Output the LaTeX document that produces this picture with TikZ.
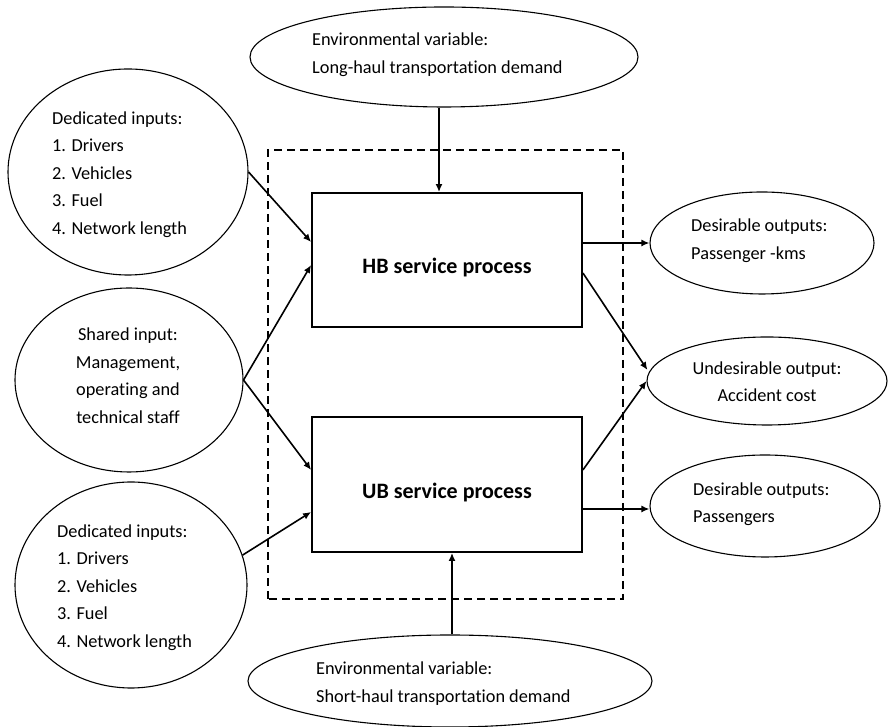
\documentclass[tikz,border=0pt]{standalone}
\usepackage{fontspec}
\setmainfont{Carlito}[Ligatures=NoCommon]
\usetikzlibrary{shapes.geometric,arrows.meta,calc}

\begin{document}
\begin{tikzpicture}[x=1pt,y=1pt,
  txt/.style={inner sep=0pt, font=\fontsize{18.3}{27.5}\selectfont},
  boldtxt/.style={inner sep=0pt, font=\fontsize{22}{26}\selectfont\bfseries},
  oval/.style={draw, ellipse, line width=1.1pt, inner sep=0pt},
  procbox/.style={draw, rectangle, line width=1.8pt, inner sep=0pt,
                  minimum width=270pt},
  conn/.style={line width=1.6pt, -{Latex[length=8pt,width=7pt]}},
  frame/.style={draw, line width=1.3pt, dash pattern=on 8pt off 5pt}
]
\useasboundingbox (0,0) rectangle (889,727);

% system boundary
\draw[frame] (268,128) rectangle (623,577);

% the two service processes
\node[procbox, minimum height=134pt] (hb) at (447,467) {};
\node[procbox, minimum height=135pt] (ub) at (447,242.5) {};
\node[boldtxt] (hbl) at (447,459) {HB service process};
\node[boldtxt] (ubl) at (447,234) {UB service process};

% environmental variables
\node[oval, minimum width=388pt, minimum height=100pt] (envT) at (444,670) {};
\node[txt, align=left, anchor=west] (envTl) at (312,672.5)
  {Environmental variable:\\Long-haul transportation demand};
\node[oval, minimum width=404pt, minimum height=92pt] (envB) at (450,46) {};
\node[txt, align=left, anchor=west] (envBl) at (316,43.5)
  {Environmental variable:\\Short-haul transportation demand};

% inputs
\node[oval, minimum width=240pt, minimum height=206pt] (dl1) at (128,555) {};
\node[txt, align=left, anchor=west] (dl1l) at (52,552.5)
  {Dedicated inputs:\\1. Drivers\\2. Vehicles\\3. Fuel\\4. Network length};
\node[oval, minimum width=228pt, minimum height=184pt] (sh) at (129,347) {};
\node[txt, align=center] (shl) at (128,351.5)
  {Shared input:\\Management,\\operating and\\technical staff};
\node[oval, minimum width=232pt, minimum height=206pt] (dl2) at (131,142) {};
\node[txt, align=left, anchor=west] (dl2l) at (57,139.5)
  {Dedicated inputs:\\1. Drivers\\2. Vehicles\\3. Fuel\\4. Network length};

% outputs
\node[oval, minimum width=224pt, minimum height=102pt] (pk) at (762,484) {};
\node[txt, align=left, anchor=west] (pkl) at (691,486.5)
  {Desirable outputs:\\Passenger -kms};
\node[oval, minimum width=240pt, minimum height=88pt] (ac) at (767,346) {};
\node[txt, align=center] (acl) at (767,345.5)
  {Undesirable output:\\Accident cost};
\node[oval, minimum width=230pt, minimum height=102pt] (pa) at (765,221) {};
\node[txt, align=left, anchor=west] (pal) at (693,223)
  {Desirable outputs:\\Passengers};

% connection points on the process boxes
\coordinate (hbtop) at ($(hb.north)+(-8,0)$);
\coordinate (ubbot) at ($(ub.south)+(5,0)$);
\coordinate (hbin1) at ($(hb.west)+(0,18)$);
\coordinate (hbin2) at ($(hb.west)+(0,-5)$);
\coordinate (ubin1) at ($(ub.west)+(0,14.5)$);
\coordinate (ubin2) at ($(ub.west)+(0,-27.5)$);
\coordinate (hbout1) at ($(hb.east)+(0,17)$);
\coordinate (hbout2) at ($(hb.east)+(0,-13)$);
\coordinate (ubout1) at ($(ub.east)+(0,14.5)$);
\coordinate (ubout2) at ($(ub.east)+(0,-24.5)$);

% connectors
\draw[conn] (envT.south -| hbtop) -- (hbtop);
\draw[conn] (envB.north -| ubbot) -- (ubbot);
\draw[conn] (dl1.east) -- (hbin1);
\draw[conn] (sh.east) -- (hbin2);
\draw[conn] (sh.east) -- (ubin1);
\draw[conn] (dl2.15) -- (ubin2);
\draw[conn] (hbout1) -- (hbout1 -| pk.west);
\draw[conn] (hbout2) -- ($(ac.west)+(1,11)$);
\draw[conn] (ubout1) -- (ac.west);
\draw[conn] (ubout2) -- (ubout2 -| pa.west);
\end{tikzpicture}
\end{document}
